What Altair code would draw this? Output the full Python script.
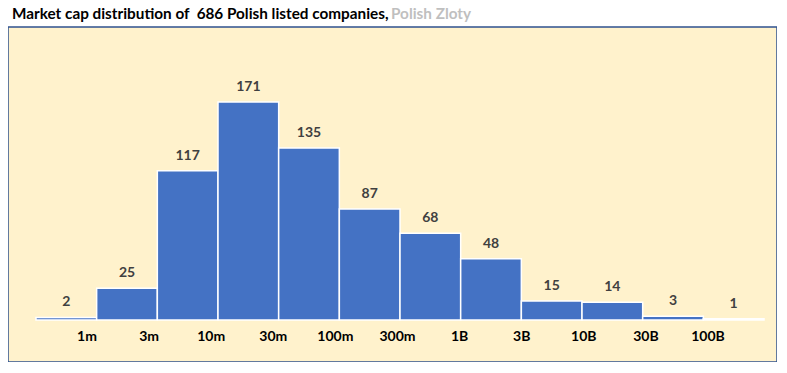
import altair as alt
import pandas as pd

BIN_LABELS = ["1m", "3m", "10m", "30m", "100m", "300m", "1B", "3B", "10B", "30B", "100B"]
COUNTS = [2, 25, 117, 171, 135, 87, 68, 48, 15, 14, 3, 1]
TITLE_MAIN = "Market cap distribution of\u00a0 686 Polish listed companies,"
TITLE_UNIT = "Polish Zloty"

FONT = "Lato"

bars = pd.DataFrame({
    "start": list(range(len(COUNTS))),
    "end": list(range(1, len(COUNTS) + 1)),
    "count": COUNTS,
})
bars["mid"] = bars["start"] + 0.5
bars["zero"] = 0
ticks = pd.DataFrame({"pos": list(range(1, len(BIN_LABELS) + 1)), "label": BIN_LABELS})

x_scale = alt.Scale(domain=[-0.4615, 12.214], nice=False, zero=False)
# category-label axis: labels are spaced slightly wider than bars, as in the original
tick_scale = alt.Scale(domain=[-0.2721, 12.111], nice=False, zero=False)
y_scale = alt.Scale(domain=[-32.9, 229.8], nice=False, zero=False)

bar = alt.Chart(bars).mark_rect(color="#4472C4", stroke="white", strokeWidth=1.5).encode(
    x=alt.X("start:Q", scale=x_scale, axis=None),
    x2="end:Q",
    y=alt.Y("count:Q", scale=y_scale, axis=None),
    y2="zero:Q",
)

vals = alt.Chart(bars).mark_text(
    font=FONT, fontSize=14, fontWeight="bold", color="#404040", baseline="middle", dy=-15
).encode(
    x=alt.X("mid:Q", scale=x_scale, axis=None),
    y=alt.Y("count:Q", scale=y_scale, axis=None),
    text="count:Q",
)

tick_text = alt.Chart(ticks).mark_text(
    font=FONT, fontSize=14, fontWeight="bold", color="#000000", baseline="middle"
).encode(
    x=alt.X("pos:Q", scale=tick_scale, axis=None),
    y=alt.value(310),
    text="label:N",
)

title_main = alt.Chart(pd.DataFrame({"t": [TITLE_MAIN]})).mark_text(
    font=FONT, fontSize=15.3, fontWeight="bold", color="#000000",
    align="left", baseline="alphabetic", x=4, y=-8,
).encode(text="t:N")

title_unit = alt.Chart(pd.DataFrame({"t": [TITLE_UNIT]})).mark_text(
    font=FONT, fontSize=15.3, fontWeight="bold", color="#BFBFBF",
    align="left", baseline="alphabetic", x=383, y=-8,
).encode(text="t:N")

chart = alt.layer(bar, vals, tick_text, title_main, title_unit).resolve_scale(
    x="independent"
).properties(
    width=769, height=335,
    autosize=alt.AutoSizeParams(type="none"),
    padding={"left": 0, "right": 0, "top": 19, "bottom": 0},
    view=alt.ViewBackground(fill="#FFF2CC", stroke="#2F528F", strokeWidth=1.5),
)

chart.save("out.html", embed_options={"renderer": "svg", "actions": False})
